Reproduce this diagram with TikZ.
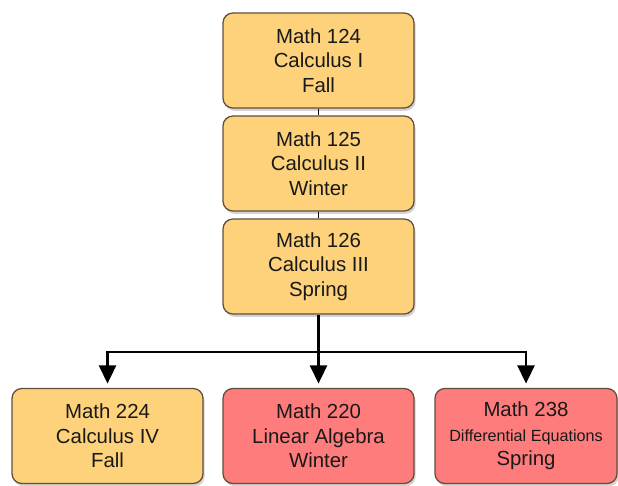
\documentclass[tikz,border=0pt]{standalone}
\usepackage{fontspec}
\setmainfont{Liberation Sans}
\usetikzlibrary{arrows.meta,shadows}

\definecolor{courseyellow}{RGB}{253,210,122}
\definecolor{coursered}{RGB}{255,124,124}
\definecolor{courseedge}{RGB}{95,78,58}

\tikzset{
  course/.style={draw=courseedge,line width=0.9pt,rounded corners=7pt,
    minimum width=4.775cm,minimum height=2.375cm,align=center,
    font=\fontsize{14.5}{17.5}\selectfont,text=black!90,
    drop shadow={opacity=0.35,shadow xshift=0.04cm,shadow yshift=-0.07cm}},
  req/.style={course,fill=courseyellow},
  opt/.style={course,fill=coursered},
  flow/.style={line width=2pt,-{Triangle[width=12pt,length=13pt]},shorten >=3pt}
}

\begin{document}
\begin{tikzpicture}
\useasboundingbox (0.000,0.000) rectangle (15.450,-12.125);
% calculus sequence
\node[req] (m124) at (7.963,-1.513) {Math 124\\Calculus I\\Fall};
\node[req] (m125) at (7.963,-4.088) {Math 125\\Calculus II\\Winter};
\node[req] (m126) at (7.963,-6.663) {Math 126\\Calculus III\\Spring};
% second year
\node[req] (m224) at (2.688,-10.900) {Math 224\\Calculus IV\\Fall};
\node[opt] (m220) at (7.963,-10.900) {Math 220\\Linear Algebra\\Winter};
\node[opt,minimum width=4.550cm] (m238) at (13.150,-10.900)
  {Math 238\\{\fontsize{11.5}{17.5}\selectfont Differential Equations}\\Spring};
\draw[line width=1.2pt] (m124.south) -- (m125.north);
\draw[line width=1.2pt] (m125.south) -- (m126.north);
\coordinate (split) at (7.963,-8.800);
\draw[flow] (m126.south) -- (m220.north);
\draw[flow] (split) -| (m224.north);
\draw[flow] (split) -| (m238.north);
\end{tikzpicture}
\end{document}
